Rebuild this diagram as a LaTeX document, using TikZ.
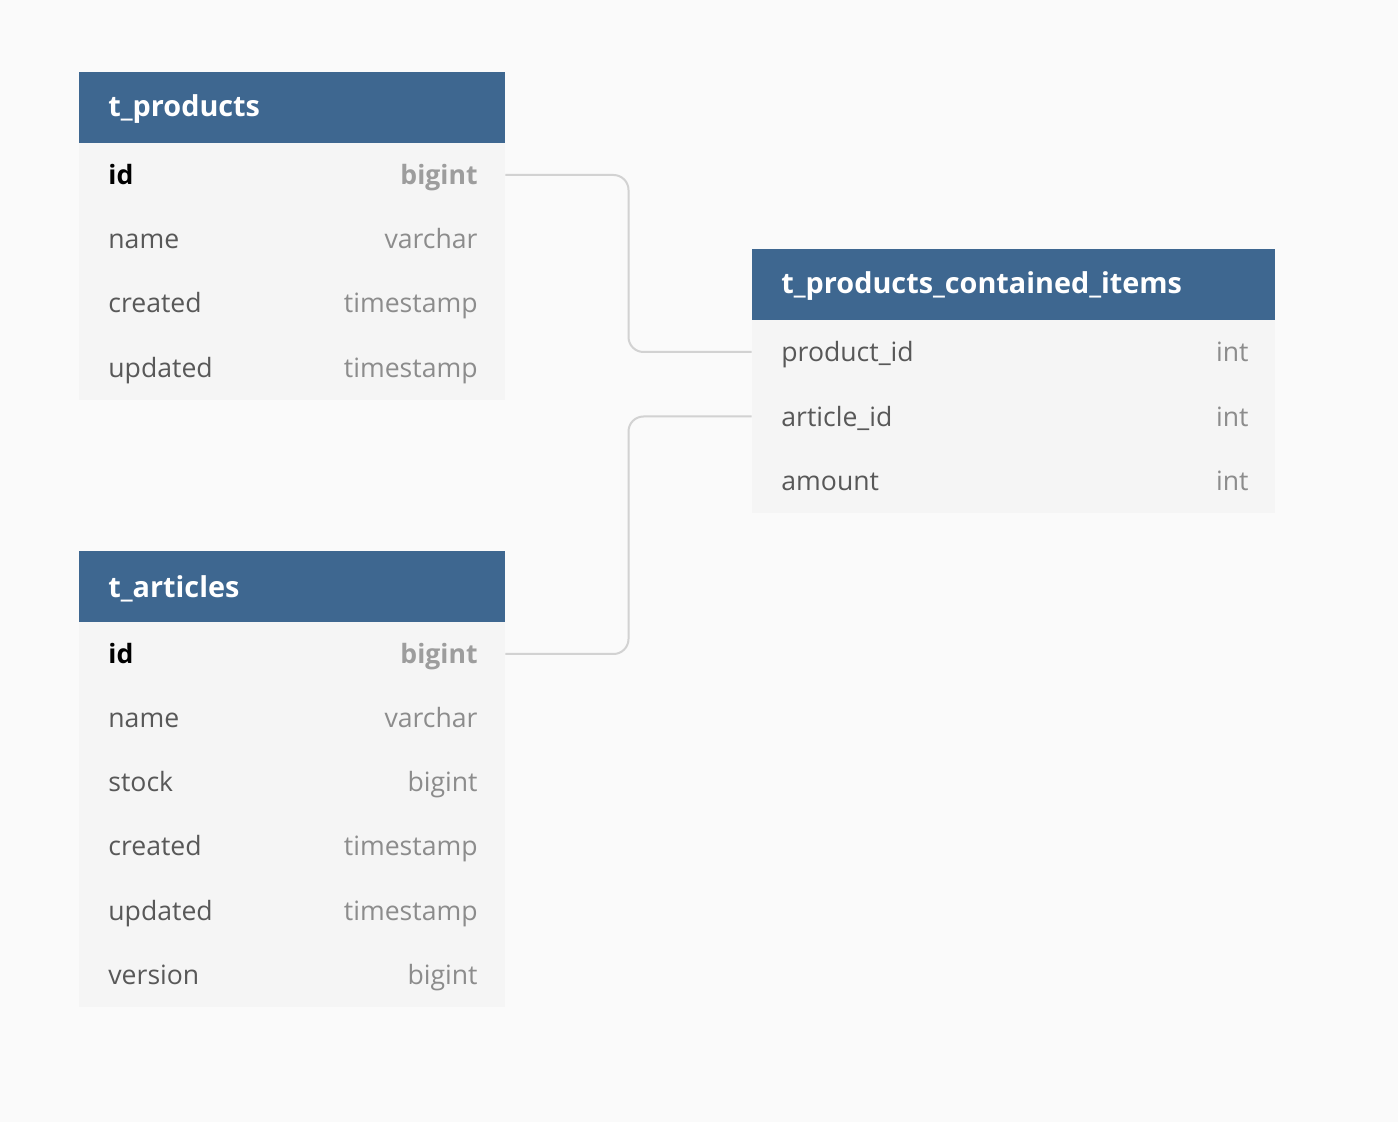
\documentclass[tikz,border=0pt]{standalone}
\usepackage{fontspec}
\setmainfont{Open Sans}
\usepackage{tikz}
\usetikzlibrary{positioning,calc}

\definecolor{headblue}{RGB}{62,103,144}
\definecolor{rowgray}{RGB}{245,245,245}
\definecolor{pagegray}{RGB}{250,250,250}
\definecolor{linkgray}{RGB}{210,210,210}
\definecolor{colgray}{RGB}{88,88,88}
\definecolor{typegray}{RGB}{140,140,140}

\tikzset{
	tablehead/.style={fill=headblue, draw=none, minimum height=35.5pt, inner sep=0},
	tablerow/.style={draw=none, minimum height=32pt, inner sep=0},
	headtext/.style={text=white, font=\fontsize{14.4}{16}\selectfont\bfseries, inner sep=0, anchor=west, yshift=-1pt},
	coltext/.style={text=colgray, font=\fontsize{13.3}{15}\selectfont, inner sep=0, anchor=west, text height=1.5ex, text depth=.3ex, yshift=-1.75pt},
	typetext/.style={text=typegray, font=\fontsize{13.3}{15}\selectfont, inner sep=0, anchor=east, text height=1.5ex, text depth=.3ex, yshift=-1.75pt},
	keytext/.style={coltext, text=black, font=\fontsize{13.3}{15}\selectfont\bfseries},
	keytype/.style={typetext, text=typegray!85, font=\fontsize{13.3}{15}\selectfont\bfseries},
	link/.style={draw=linkgray, line width=1pt, rounded corners=7.5pt}
}

\begin{document}
\begin{tikzpicture}[x=0.5pt, y=-0.5pt]
	\fill[pagegray] (0,0) rectangle (1398,1122);
	\useasboundingbox (0,0) rectangle (1398,1122);

	% t_products
	\node [tablehead, minimum width=213pt] (P) at (292, 107.5) {};
	\node [headtext] at (108, 107.5) {t\_products};
	\node [tablerow, minimum width=213pt] (P1) at (292, 175) {};
	\node [tablerow, minimum width=213pt] (P2) at (292, 239) {};
	\node [tablerow, minimum width=213pt] (P3) at (292, 303) {};
	\node [tablerow, minimum width=213pt] (P4) at (292, 368) {};
	\fill [rowgray] (P.south west) rectangle (P4.south east);
	\node [keytext] at (108, 175) {id};
	\node [keytype] at (478, 175) {bigint};
	\node [coltext] at (108, 239) {name};
	\node [typetext] at (478, 239) {varchar};
	\node [coltext] at (108, 303) {created};
	\node [typetext] at (478, 303) {timestamp};
	\node [coltext] at (108, 368) {updated};
	\node [typetext] at (478, 368) {timestamp};

	% t_articles
	\node [tablehead, minimum width=213pt] (A) at (292, 586.5) {};
	\node [headtext] at (108, 586.5) {t\_articles};
	\node [tablerow, minimum width=213pt] (A1) at (292, 654) {};
	\node [tablerow, minimum width=213pt] (A2) at (292, 718) {};
	\node [tablerow, minimum width=213pt] (A3) at (292, 782) {};
	\node [tablerow, minimum width=213pt] (A4) at (292, 846) {};
	\node [tablerow, minimum width=213pt] (A5) at (292, 911) {};
	\node [tablerow, minimum width=213pt] (A6) at (292, 975) {};
	\fill [rowgray] (A.south west) rectangle (A6.south east);
	\node [keytext] at (108, 654) {id};
	\node [keytype] at (478, 654) {bigint};
	\node [coltext] at (108, 718) {name};
	\node [typetext] at (478, 718) {varchar};
	\node [coltext] at (108, 782) {stock};
	\node [typetext] at (478, 782) {bigint};
	\node [coltext] at (108, 846) {created};
	\node [typetext] at (478, 846) {timestamp};
	\node [coltext] at (108, 911) {updated};
	\node [typetext] at (478, 911) {timestamp};
	\node [coltext] at (108, 975) {version};
	\node [typetext] at (478, 975) {bigint};

	% t_products_contained_items
	\node [tablehead, minimum width=261.5pt] (C) at (1013.5, 284.5) {};
	\node [headtext] at (781, 284.5) {t\_products\_contained\_items};
	\node [tablerow, minimum width=261.5pt] (C1) at (1013.5, 352) {};
	\node [tablerow, minimum width=261.5pt] (C2) at (1013.5, 416.5) {};
	\node [tablerow, minimum width=261.5pt] (C3) at (1013.5, 481) {};
	\fill [rowgray] (C.south west) rectangle (C3.south east);
	\node [coltext] at (781, 352) {product\_id};
	\node [typetext] at (1249, 352) {int};
	\node [coltext] at (781, 416.5) {article\_id};
	\node [typetext] at (1249, 416.5) {int};
	\node [coltext] at (781, 481) {amount};
	\node [typetext] at (1249, 481) {int};

	% references
	\draw [link] (P1.east) -| ($(P1.east)!0.5!(C1.west)$) |- (C1.west);
	\draw [link] (A1.east) -| ($(A1.east)!0.5!(C2.west)$) |- (C2.west);
\end{tikzpicture}
\end{document}
